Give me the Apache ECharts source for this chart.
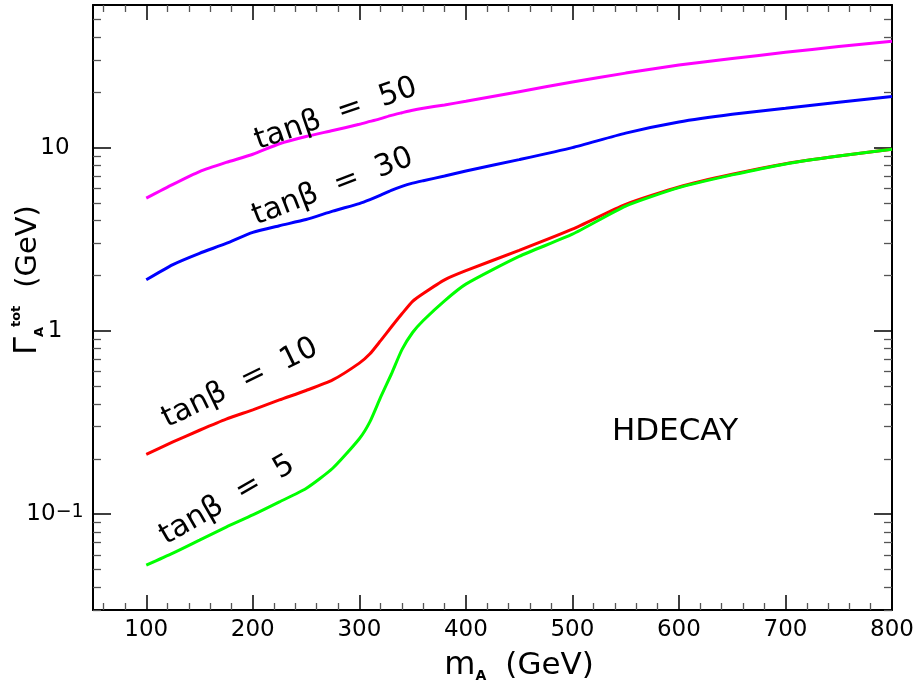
<!DOCTYPE html>
<html>
<head>
<meta charset="utf-8">
<script src="https://cdn.jsdelivr.net/npm/echarts@6/dist/echarts.min.js"></script>
<style>html,body{margin:0;padding:0;background:#fff}#c{width:919px;height:691px}</style>
</head>
<body>
<div id="c"></div>
<script>
// ---- data ----
const massA = [100,125,150,175,200,225,250,275,300,310,320,330,340,350,360,380,400,450,500,550,600,650,700,750,800];
const widthTb50 = [5.3,6.3,7.4,8.3,9.2,10.5,11.5,12.4,13.4,13.9,14.4,15.0,15.5,16.0,16.4,17.1,17.9,20.2,22.8,25.5,28.2,30.6,33.1,35.6,38.0];
const widthTb30 = [1.9,2.3,2.65,3.0,3.45,3.75,4.05,4.5,4.95,5.2,5.5,5.85,6.15,6.4,6.6,7.0,7.45,8.6,10.0,12.0,13.8,15.2,16.4,17.7,19.0];
const widthTb10 = [0.212,0.248,0.287,0.33,0.371,0.42,0.473,0.54,0.667,0.75,0.885,1.05,1.24,1.45,1.60,1.90,2.13,2.75,3.59,4.9,6.1,7.15,8.17,9.0,9.79];
const widthTb5  = [0.0527,0.0613,0.0722,0.085,0.099,0.1167,0.138,0.178,0.258,0.32,0.435,0.58,0.79,0.98,1.14,1.46,1.80,2.55,3.37,4.8,6.05,7.1,8.15,9.0,9.79];
const seriesNames = ['tanβ = 50','tanβ = 30','tanβ = 10','tanβ = 5'];
const seriesColors = ['#ff00ff','#0000ff','#ff0000','#00ff00'];
const xMajorTicks = [100,200,300,400,500,600,700,800];
const xMinorTicks = [60,80,120,140,160,180,220,240,260,280,320,340,360,380,420,440,460,480,520,540,560,580,620,640,660,680,720,740,760,780];
const yMajorTicks = [0.1,1,10];
const yMinorTicks = [0.03,0.04,0.05,0.06,0.07,0.08,0.09,0.2,0.3,0.4,0.5,0.6,0.7,0.8,0.9,2,3,4,5,6,7,8,9,20,30,40,50];
// curve label anchors: [mA, width, angle]
const labelAnchors = [[278,15.2,19],[275,6.1,21],[188,0.517,26],[176,0.119,30]];

const FONT = 'DejaVu Sans';
const F = (px, w) => (w ? w + ' ' : '') + px + 'px "DejaVu Sans"';
const chart = echarts.init(document.getElementById('c'), null, {renderer:'canvas'});

function pairs(ys){ return massA.map((m,i)=>[m, ys[i]]); }
const allY = [widthTb50, widthTb30, widthTb10, widthTb5];

function xAxisDef(pos, major){
  return {
    type:'value', min:50, max:800, position:pos,
    axisLine:{show:major, lineStyle:{color:'#000', width:2}},
    axisTick:{show:true, inside:true, length: major?15:7, customValues: major?xMajorTicks:xMinorTicks,
              lineStyle:{color: major?'#000':'#555', width: major?1.5:1.3}},
    axisLabel:{show: major && pos==='bottom', customValues:xMajorTicks, fontSize:23, color:'#000', fontFamily:FONT, margin:9},
    splitLine:{show:false}
  };
}
function yAxisDef(pos, major){
  return {
    type:'log', logBase:10, min:0.03, max:60, position:pos,
    axisLine:{show:major, lineStyle:{color:'#000', width:2}},
    axisTick:{show:true, inside:true, length: major?18:8, customValues: major?yMajorTicks:yMinorTicks,
              lineStyle:{color: major?'#000':'#555', width: major?1.5:1.3}},
    axisLabel:{show: major && pos==='left', customValues:yMajorTicks, fontSize:23, color:'#000', fontFamily:FONT,
               margin:38, align:'center',
               formatter:function(v){ const e=Math.round(Math.log10(v)); if(e===0) return '1'; if(e===1) return '10'; return '10{sup|−1}'; },
               rich:{sup:{fontSize:19, fontFamily:FONT, color:'#000', verticalAlign:'top', lineHeight:16}}},
    splitLine:{show:false}
  };
}

const series = seriesNames.map((name,i)=>({
  name:name, type:'line', xAxisIndex:0, yAxisIndex:0,
  data: pairs(allY[i]), symbol:'none', smooth:0.2,
  lineStyle:{color:seriesColors[i], width:3}, silent:true,
  markPoint:{
    symbol:'circle', symbolSize:1, itemStyle:{color:'rgba(0,0,0,0)'}, silent:true,
    label:{show:true, position:'inside', formatter:name.replace(' = ','  =  '), rotate:labelAnchors[i][2],
           color:'#000', fontSize:30, fontFamily:FONT},
    data:[{coord:[labelAnchors[i][0], labelAnchors[i][1]]}]
  }
}));

chart.setOption({
  animation:false,
  backgroundColor:'#fff',
  grid:{left:93, right:27, top:5, bottom:81, containLabel:false},
  xAxis:[xAxisDef('bottom',true), xAxisDef('bottom',false), xAxisDef('top',true), xAxisDef('top',false)],
  yAxis:[yAxisDef('left',true), yAxisDef('left',false), yAxisDef('right',true), yAxisDef('right',false)],
  series:series,
  graphic:[
    {type:'text', x:519, y:666, silent:true,
     style:{text:'{m|m}{a|A}  {g|(GeV)}', align:'center', verticalAlign:'middle', textAlign:'center', textVerticalAlign:'middle',
            fill:'#000', font:F(30),
            rich:{m:{font:F(32), lineHeight:34, fill:'#000'},
                  a:{font:F(14,'bold'), lineHeight:14, verticalAlign:'bottom', fill:'#000'},
                  g:{font:F(31), lineHeight:34, fill:'#000'}}}},
    {type:'text', x:28, y:280, rotation:Math.PI/2, silent:true,
     style:{text:'{g|Γ}{a|A}{t|tot}  {n|(GeV)}', align:'center', verticalAlign:'middle', textAlign:'center', textVerticalAlign:'middle',
            fill:'#000', font:F(28),
            rich:{g:{font:F(32), lineHeight:36, fill:'#000'},
                  a:{font:F(13,'bold'), lineHeight:14, verticalAlign:'bottom', fill:'#000'},
                  t:{font:F(13,'bold'), lineHeight:14, verticalAlign:'top', fill:'#000'},
                  n:{font:F(29), lineHeight:36, fill:'#000'}}}},
    {type:'text', x:675, y:432, silent:true,
     style:{text:'HDECAY', align:'center', verticalAlign:'middle', textAlign:'center', textVerticalAlign:'middle',
            fill:'#000', font:F(31)}}
  ]
});
</script>
</body>
</html>
